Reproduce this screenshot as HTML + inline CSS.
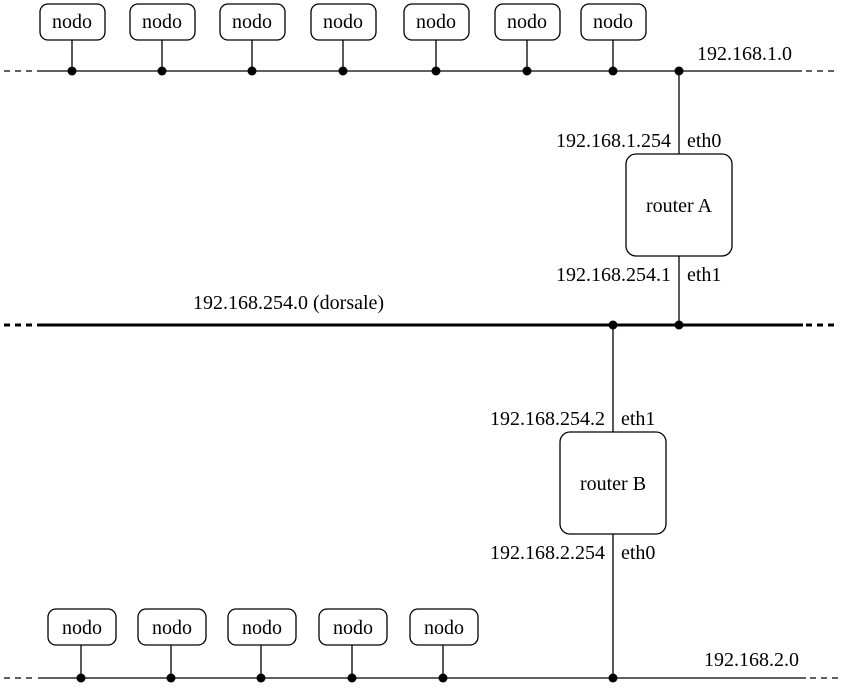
<!DOCTYPE html>
<html><head><meta charset="utf-8"><style>html,body{margin:0;padding:0;background:#fff}</style></head>
<body>
<svg width="841" height="683" viewBox="0 0 841 683" xmlns="http://www.w3.org/2000/svg" font-family="Liberation Serif, serif" font-size="20" fill="#000">
<g stroke="#000" stroke-width="1.3" fill="none">
<line x1="37" y1="71" x2="802" y2="71"/>
<line x1="4" y1="71" x2="32" y2="71" stroke-dasharray="6,5"/>
<line x1="806" y1="71" x2="836" y2="71" stroke-dasharray="6,5"/>
<line x1="38" y1="678" x2="806" y2="678"/>
<line x1="4" y1="678" x2="34" y2="678" stroke-dasharray="6,5"/>
<line x1="810" y1="678" x2="838" y2="678" stroke-dasharray="6,5"/>
<line x1="37" y1="325" x2="803" y2="325" stroke-width="3"/>
<line x1="4" y1="325" x2="32" y2="325" stroke-width="3" stroke-dasharray="6,5"/>
<line x1="806" y1="325" x2="836" y2="325" stroke-width="3" stroke-dasharray="6,5"/>
<line x1="679" y1="71" x2="679" y2="154"/>
<line x1="679" y1="256" x2="679" y2="325"/>
<rect x="626" y="154" width="106" height="102" rx="10"/>
<line x1="613" y1="325" x2="613" y2="432"/>
<line x1="613" y1="534" x2="613" y2="678"/>
<rect x="560" y="432" width="106" height="102" rx="10"/>
<g>
<line x1="72" y1="40" x2="72" y2="71"/><rect x="40" y="4" width="65" height="36" rx="8"/>
<line x1="162" y1="40" x2="162" y2="71"/><rect x="130" y="4" width="65" height="36" rx="8"/>
<line x1="252" y1="40" x2="252" y2="71"/><rect x="220" y="4" width="65" height="36" rx="8"/>
<line x1="343" y1="40" x2="343" y2="71"/><rect x="311" y="4" width="65" height="36" rx="8"/>
<line x1="436" y1="40" x2="436" y2="71"/><rect x="404" y="4" width="65" height="36" rx="8"/>
<line x1="527" y1="40" x2="527" y2="71"/><rect x="495" y="4" width="65" height="36" rx="8"/>
<line x1="613" y1="40" x2="613" y2="71"/><rect x="581" y="4" width="65" height="36" rx="8"/>
</g>
<g>
<line x1="81" y1="645" x2="81" y2="678"/><rect x="48" y="609" width="68" height="36" rx="8"/>
<line x1="171" y1="645" x2="171" y2="678"/><rect x="138" y="609" width="68" height="36" rx="8"/>
<line x1="261" y1="645" x2="261" y2="678"/><rect x="228" y="609" width="68" height="36" rx="8"/>
<line x1="352" y1="645" x2="352" y2="678"/><rect x="319" y="609" width="68" height="36" rx="8"/>
<line x1="443" y1="645" x2="443" y2="678"/><rect x="410" y="609" width="68" height="36" rx="8"/>
</g>
</g>
<g>
<circle cx="72" cy="71" r="4.5"/><circle cx="162" cy="71" r="4.5"/><circle cx="252" cy="71" r="4.5"/><circle cx="343" cy="71" r="4.5"/><circle cx="436" cy="71" r="4.5"/><circle cx="527" cy="71" r="4.5"/><circle cx="613" cy="71" r="4.5"/><circle cx="679" cy="71" r="4.5"/>
<circle cx="613" cy="325" r="4.5"/><circle cx="679" cy="325" r="4.5"/>
<circle cx="81" cy="678" r="4.5"/><circle cx="171" cy="678" r="4.5"/><circle cx="261" cy="678" r="4.5"/><circle cx="352" cy="678" r="4.5"/><circle cx="443" cy="678" r="4.5"/><circle cx="613" cy="678" r="4.5"/>
</g>
<g text-anchor="middle">
<text x="72" y="28">nodo</text><text x="162" y="28">nodo</text><text x="252" y="28">nodo</text><text x="343" y="28">nodo</text><text x="436" y="28">nodo</text><text x="527" y="28">nodo</text><text x="613" y="28">nodo</text>
<text x="82" y="634">nodo</text><text x="172" y="634">nodo</text><text x="262" y="634">nodo</text><text x="353" y="634">nodo</text><text x="444" y="634">nodo</text>
<text x="679" y="212">router A</text>
<text x="613" y="490">router B</text>
</g>
<text x="697" y="60">192.168.1.0</text>
<text x="704" y="666">192.168.2.0</text>
<text x="193" y="309">192.168.254.0 (dorsale)</text>
<g text-anchor="end">
<text x="671" y="147">192.168.1.254</text>
<text x="671" y="281">192.168.254.1</text>
<text x="605" y="425">192.168.254.2</text>
<text x="605" y="559">192.168.2.254</text>
</g>
<text x="687" y="147">eth0</text>
<text x="687" y="281">eth1</text>
<text x="621" y="425">eth1</text>
<text x="621" y="559">eth0</text>
</svg>
</body></html>
